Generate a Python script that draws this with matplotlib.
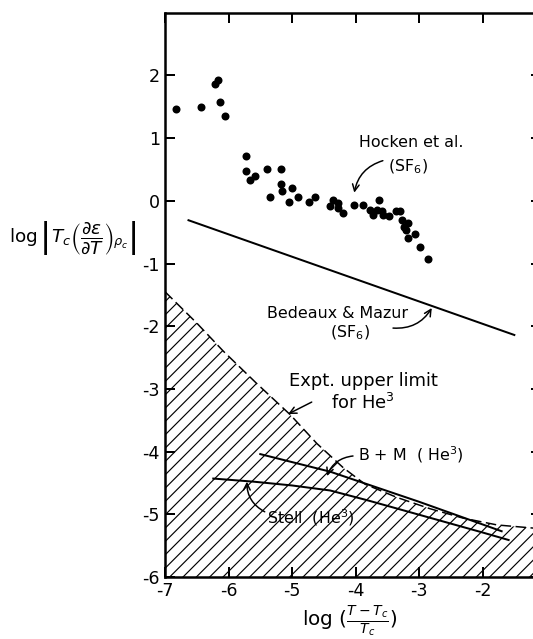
import numpy as np
import matplotlib.pyplot as plt

plt.rcParams['font.family'] = ['DejaVu Sans']
plt.rcParams['axes.unicode_minus'] = False
plt.rcParams['hatch.linewidth'] = 0.7

# Hocken et al. (SF6) data points
hocken_x = [-6.82, -6.44, -6.22, -6.17, -6.13, -6.05, -5.72, -5.72, -5.66, -5.59,
            -5.40, -5.35, -5.17, -5.17, -5.16, -5.00, -5.05, -4.91, -4.74, -4.64,
            -4.40, -4.35, -4.27, -4.27, -4.20, -4.02, -3.89, -3.78, -3.73, -3.63,
            -3.67, -3.59, -3.56, -3.47, -3.37, -3.30, -3.27, -3.17, -3.24, -3.20,
            -3.06, -3.17, -2.98, -2.86]
hocken_y = [1.46, 1.50, 1.87, 1.92, 1.58, 1.36, 0.72, 0.47, 0.33, 0.40,
            0.51, 0.06, 0.51, 0.26, 0.16, 0.20, -0.02, 0.06, -0.02, 0.06,
            -0.08, 0.02, -0.04, -0.12, -0.19, -0.07, -0.07, -0.14, -0.22, 0.01,
            -0.15, -0.17, -0.22, -0.25, -0.17, -0.17, -0.31, -0.35, -0.41, -0.46,
            -0.53, -0.60, -0.73, -0.93]

# Bedeaux & Mazur (SF6) line
bm_sf6_x = [-6.63, -1.50]
bm_sf6_y = [-0.31, -2.14]

# experimental upper limit for He3 (boundary of hatched region)
limit_x = [-7.0, -6.5, -6.08, -5.56, -5.03, -4.61, -4.19, -3.85, -3.35, -2.83,
           -2.31, -1.77, -1.20, -0.90]
limit_y = [-1.45, -1.95, -2.40, -2.91, -3.41, -3.87, -4.26, -4.52, -4.73, -4.91,
           -5.06, -5.17, -5.22, -5.23]

# B + M (He3)
bm_he_x = [-5.50, -4.40, -3.00, -1.70]
bm_he_y = [-4.04, -4.32, -4.80, -5.27]

# Stell (He3)
stell_x = [-6.24, -5.60, -5.00, -4.40, -3.80, -3.20, -2.60, -2.00, -1.59]
stell_y = [-4.43, -4.48, -4.54, -4.62, -4.78, -4.95, -5.12, -5.29, -5.41]

xticks = [-7, -6, -5, -4, -3, -2]
yticks = [-6, -5, -4, -3, -2, -1, 0, 1, 2]

dpi = 120
fig = plt.figure(figsize=(533 / dpi, 639 / dpi), dpi=dpi)
ax = fig.add_axes([165 / 533, 62 / 639, 376 / 533, 564.3 / 639])

ax.fill_between(limit_x, limit_y, -6, facecolor='none', edgecolor='black',
                hatch='///', linewidth=0)
ax.plot(limit_x, limit_y, color='black', lw=0.9, ls=(0, (7, 3)))
ax.plot(bm_sf6_x, bm_sf6_y, color='black', lw=1.2)
ax.plot(bm_he_x, bm_he_y, color='black', lw=1.2)
ax.plot(stell_x, stell_y, color='black', lw=1.2)
ax.plot(hocken_x, hocken_y, 'o', color='black', ms=3.8)

ax.set_xlim(-7, -1.08)
ax.set_ylim(-6, 3)
ax.set_xticks(xticks)
ax.set_yticks(yticks)
ax.tick_params(direction='in', length=6, width=1.2, labelsize=10.5, pad=3,
               top=True, right=True)
for s in ax.spines.values():
    s.set_linewidth(1.5)

fs = 9.5
arr = dict(arrowstyle='->', color='black', lw=0.9, shrinkA=0, shrinkB=0)

ax.text(-3.13, 0.93, 'Hocken et al.', fontsize=fs, ha='center', va='center')
ax.text(-3.17, 0.54, '(SF$_6$)', fontsize=fs, ha='center', va='center')
ax.annotate('', xy=(-4.02, 0.13), xytext=(-3.57, 0.64),
            arrowprops=dict(arr, connectionstyle='arc3,rad=0.3'))

ax.text(-4.29, -1.79, 'Bedeaux & Mazur', fontsize=fs, ha='center', va='center')
ax.text(-4.09, -2.11, '(SF$_6$)', fontsize=fs, ha='center', va='center')
ax.annotate('', xy=(-2.80, -1.71), xytext=(-3.41, -2.03),
            arrowprops=dict(arr, connectionstyle='arc3,rad=0.3'))

ax.text(-3.87, -2.88, 'Expt. upper limit', fontsize=fs + 1.2, ha='center', va='center')
ax.text(-3.88, -3.22, 'for He$^3$', fontsize=fs + 1.2, ha='center', va='center')
ax.annotate('', xy=(-5.06, -3.40), xytext=(-4.69, -3.21),
            arrowprops=dict(arr, connectionstyle='arc3,rad=0'))

ax.text(-3.96, -4.05, 'B + M  ( He$^3$)', fontsize=fs, ha='left', va='center')
ax.annotate('', xy=(-4.45, -4.39), xytext=(-4.04, -4.07),
            arrowprops=dict(arr, connectionstyle='arc3,rad=0.3'))

ax.text(-5.39, -5.06, 'Stell  (He$^3$)', fontsize=fs, ha='left', va='center')
ax.annotate('', xy=(-5.71, -4.48), xytext=(-5.43, -4.96),
            arrowprops=dict(arr, connectionstyle='arc3,rad=-0.3'))

fig.text(73 / 533, 1 - 238 / 639,
         r'$\log\left|T_c\left(\dfrac{\partial\epsilon}{\partial T}\right)_{\rho_c}\right|$',
         fontsize=11, ha='center', va='center')
fig.text(350 / 533, 1 / 639, r'$\log\,(\frac{T-T_c}{T_c})$',
         fontsize=12, ha='center', va='bottom')

fig.savefig('out.png', dpi=dpi)
